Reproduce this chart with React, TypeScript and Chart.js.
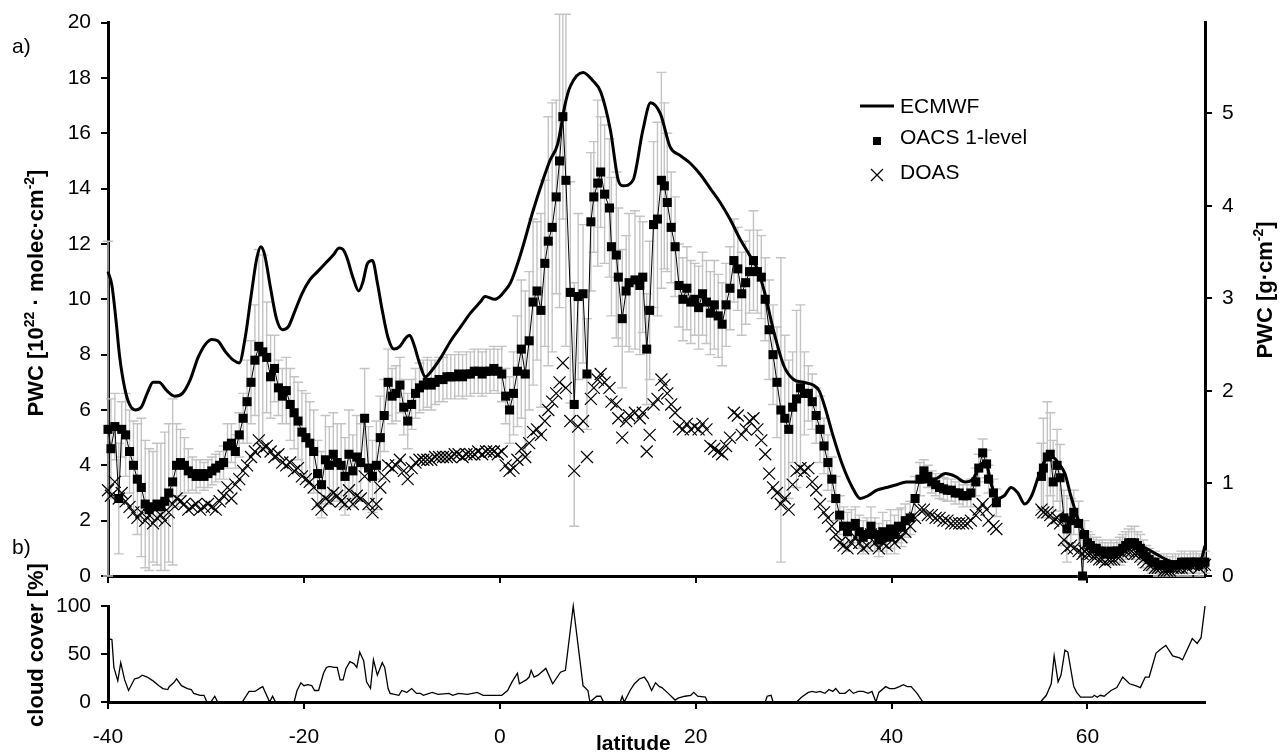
import React, { useEffect, useRef } from "react";
import { Chart, registerables } from "chart.js";
Chart.register(...registerables);

const FONT = '"Liberation Sans", Arial, Helvetica, sans-serif';

// ECMWF model precipitable water column [1e22 molec/cm2]
const ecmwfLat = [
  -40, -39.6, -39.2, -38.8, -38.3, -37.8, -37.2, -36.6, -36.0, -35.4,
  -34.8, -34.0, -33.2, -32.4, -31.6, -30.8, -30.0, -29.4, -28.8, -28.0,
  -27.2, -26.6, -26.0, -25.4, -24.8, -24.4, -24.0, -23.4, -22.8, -22.2,
  -21.6, -21.0, -20.2, -19.4, -18.6, -17.8, -17.0, -16.4, -16.0, -15.6,
  -15.0, -14.4, -14.0, -13.5, -13.0, -12.5, -12.0, -11.4, -10.8, -10.2,
  -9.6, -9.2, -8.8, -8.2, -7.6, -7.0, -6.0, -5.0, -4.0, -3.0,
  -2.0, -1.5, -0.5, 0, 0.5, 1.1, 2.1, 3.4, 4.4, 5.1,
  5.9, 6.7, 7.2, 8.5, 9.5, 10.3, 11.3, 12.1, 12.6, 13.6,
  14.6, 15.4, 16.4, 17.4, 18.4, 19.5, 20.5, 21.5, 22.5, 23.5,
  24.5, 25.5, 26.3, 27.0, 28.0, 29.0, 30.0, 31.0, 32.0, 32.6,
  33.2, 34.0, 35.0, 36.0, 36.8, 37.6, 38.5, 39.5, 40.5, 41.5,
  42.5, 43.5, 44.5, 45.5, 46.5, 47.5, 48.3, 49.0, 49.6, 50.2,
  50.8, 51.5, 52.2, 52.9, 53.6, 54.3, 55.0, 55.7, 56.4, 57.0,
  57.7, 58.3, 59.0, 59.6, 60.3, 61.0, 62.0, 63.0, 64.0, 65.0,
  66.0, 67.0, 68.0, 69.0, 70.0, 71.0, 71.6, 72.0,
];
const ecmwfVal = [
  11.0, 10.5, 9.3, 7.9, 6.8, 6.2, 6.0, 6.1, 6.6, 7.0,
  7.0, 6.7, 6.5, 6.6, 7.1, 7.9, 8.4, 8.55, 8.5, 8.1,
  7.8, 7.7, 8.6, 10.1, 11.5, 11.9, 11.6, 10.4, 9.3, 8.9,
  9.0, 9.5, 10.2, 10.7, 11.0, 11.3, 11.6, 11.85, 11.8, 11.5,
  10.8, 10.3, 10.6, 11.3, 11.4, 10.6, 9.6, 8.6, 8.2, 8.3,
  8.6, 8.7, 8.4, 7.7, 7.2, 7.4, 7.9, 8.5, 9.0, 9.5,
  9.9, 10.1, 10.0, 10.1, 10.3, 10.6, 11.6, 13.2, 14.3, 15.0,
  15.6, 17.1, 17.7, 18.2, 17.9, 17.5, 16.1, 14.3, 14.1, 14.3,
  16.1, 17.1, 16.7, 15.5, 15.2, 14.9, 14.5, 14.0, 13.5, 12.9,
  12.2, 11.6, 11.1, 10.3, 8.8, 7.6, 7.1, 7.0, 6.9, 6.7,
  6.1, 5.1, 4.0, 3.2, 2.8, 2.9, 3.1, 3.2, 3.3, 3.4,
  3.4, 3.4, 3.5, 3.7, 3.6, 3.4, 3.5, 4.0, 4.1, 3.3,
  2.8, 2.9, 3.2, 3.0, 2.6, 2.9, 3.6, 4.2, 4.3, 4.1,
  3.7, 2.9, 2.1, 1.6, 1.2, 1.0, 0.9, 0.9, 1.0, 1.1,
  1.0, 0.8, 0.6, 0.5, 0.5, 0.5, 0.6, 1.1,
];

// measurement latitudes (shared by OACS and DOAS)
const measLat = [
  -40.0, -39.7, -39.3, -38.9, -38.6, -38.2, -37.8, -37.4, -37.0, -36.6,
  -36.2, -35.8, -35.4, -35.0, -34.6, -34.2, -33.8, -33.4, -33.0, -32.6,
  -32.2, -31.8, -31.4, -31.0, -30.6, -30.2, -29.8, -29.4, -29.0, -28.6,
  -28.2, -27.8, -27.4, -27.0, -26.6, -26.2, -25.8, -25.4, -25.0, -24.6,
  -24.2, -23.8, -23.4, -23.0, -22.6, -22.2, -21.8, -21.4, -21.0, -20.6,
  -20.2, -19.8, -19.4, -19.0, -18.6, -18.2, -17.8, -17.4, -17.0, -16.6,
  -16.2, -15.8, -15.4, -15.0, -14.6, -14.2, -13.8, -13.4, -13.0, -12.6,
  -12.2, -11.8, -11.4, -11.0, -10.6, -10.2, -9.8, -9.4, -9.0, -8.6,
  -8.2, -7.8, -7.4, -7.0, -6.6, -6.2, -5.8, -5.4, -5.0, -4.6,
  -4.2, -3.8, -3.4, -3.0, -2.6, -2.2, -1.8, -1.4, -1.0, -0.6,
  -0.2, 0.2, 0.6, 1.0, 1.4, 1.8, 2.2, 2.6, 3.0, 3.4,
  3.8, 4.2, 4.6, 4.95, 5.35, 5.76, 6.1, 6.44, 6.75, 7.2,
  7.6, 8.0, 8.5, 8.9, 9.3, 9.6, 10.0, 10.3, 10.7, 11.2,
  11.4, 11.9, 12.1, 12.5, 12.9, 13.2, 13.8, 14.3, 14.6, 15.0,
  15.3, 15.7, 16.1, 16.5, 16.8, 17.1, 17.5, 17.9, 18.3, 18.7,
  19.1, 19.5, 19.9, 20.3, 20.7, 21.1, 21.5, 21.9, 22.3, 22.7,
  23.1, 23.5, 23.9, 24.3, 24.7, 25.1, 25.5, 25.9, 26.3, 26.7,
  27.1, 27.5, 27.9, 28.3, 28.7, 29.1, 29.5, 29.9, 30.3, 30.7,
  31.1, 31.5, 31.9, 32.3, 32.7, 33.1, 33.5, 33.9, 34.3, 34.7,
  35.1, 35.5, 35.9, 36.3, 36.7, 37.1, 37.5, 37.9, 38.3, 38.7,
  39.1, 39.5, 39.9, 40.3, 40.7, 41.0, 41.4, 41.9, 42.4, 42.9,
  43.3, 43.7, 44.1, 44.5, 44.9, 45.3, 45.7, 46.1, 46.5, 46.9,
  47.3, 47.7, 48.1, 48.6, 48.9, 49.3, 49.7, 49.9, 50.4, 50.7,
  55.3, 55.5, 55.9, 56.2, 56.5, 56.9, 57.2, 57.6, 57.9, 58.3,
  58.6, 59.1, 59.5, 59.7, 60.0, 60.3, 60.6, 60.9, 61.2, 61.5,
  61.8, 62.1, 62.4, 62.7, 63.0, 63.3, 63.6, 63.9, 64.2, 64.5,
  64.8, 65.1, 65.4, 65.7, 66.0, 66.3, 66.6, 66.9, 67.2, 67.5,
  67.8, 68.1, 68.4, 68.7, 69.0, 69.3, 69.6, 69.9, 70.2, 70.5,
  70.8, 71.1, 71.4, 71.7, 72.0,
];

// OACS 1-level retrieval
const oacsVal = [
  5.3, 4.6, 5.4, 2.8, 5.3, 5.1, 4.5, 4.0, 3.5, 3.2,
  2.6, 2.4, 2.5, 2.6, 2.5, 2.7, 3.0, 3.4, 4.0, 4.1,
  4.0, 3.8, 3.7, 3.6, 3.7, 3.6, 3.7, 3.8, 3.9, 4.0,
  4.1, 4.7, 4.8, 4.5, 5.1, 5.7, 6.3, 7.0, 7.8, 8.3,
  8.1, 7.9, 7.2, 7.5, 6.8, 6.5, 6.7, 6.2, 5.9, 5.6,
  5.2, 5.0, 4.8, 4.5, 3.7, 3.3, 4.2, 4.0, 4.4, 4.1,
  4.0, 3.6, 4.4, 3.8, 4.3, 4.1, 5.7, 3.9, 3.6, 4.0,
  5.0, 5.8, 7.0, 6.5, 6.6, 6.9, 6.1, 5.6, 6.2, 6.6,
  6.8, 6.9, 7.0, 6.9, 7.0, 7.1, 7.1, 7.2, 7.2, 7.2,
  7.3, 7.2, 7.3, 7.3, 7.4, 7.4, 7.3, 7.4, 7.4, 7.5,
  7.4, 7.3, 6.5, 6.0, 6.6, 7.4, 8.2, 7.3, 8.5, 9.9,
  10.3, 9.6, 11.3, 12.1, 12.6, 13.7, 15.0, 16.6, 14.3, 10.25,
  6.2, 10.1, 10.2, 7.3, 12.8, 13.7, 14.2, 14.6, 13.8, 13.3,
  11.9, 11.6, 10.8, 9.3, 10.3, 10.6, 10.7, 10.5, 10.8, 8.2,
  9.6, 12.7, 12.9, 14.3, 14.1, 13.5, 12.6, 11.9, 10.5, 10.0,
  10.4, 9.9, 10.0, 9.7, 10.2, 9.9, 9.5, 9.8, 9.4, 9.1,
  9.8, 10.4, 11.4, 11.1, 10.2, 10.6, 11.0, 11.4, 11.0, 10.8,
  10.0, 8.9, 8.0, 7.0, 6.0, 5.7, 5.3, 6.1, 6.4, 6.8,
  6.6, 6.6, 6.3, 5.8, 5.3, 4.7, 4.1, 3.5, 2.8, 2.2,
  1.8, 1.6, 1.8, 1.9, 1.6, 1.4, 1.5, 1.8, 1.5, 1.3,
  1.6, 1.4, 1.7, 1.5, 1.8, 1.76, 2.0, 2.1, 2.8, 3.5,
  3.8, 3.6, 3.4, 3.3, 3.2, 3.15, 3.1, 3.1, 3.0, 3.0,
  2.9, 2.9, 3.0, 3.4, 3.9, 4.45, 4.05, 3.5, 3.0, 2.65,
  3.6, 3.9, 4.3, 4.4, 3.4, 4.0, 3.55, 2.1, 1.7, 2.0,
  2.3, 1.9, 0.0, 1.5, 1.2, 1.1, 1.0, 1.0, 0.9, 0.9,
  0.8, 0.8, 0.9, 0.8, 0.9, 0.9, 1.0, 1.1, 1.2, 1.2,
  1.2, 1.1, 1.0, 0.8, 0.7, 0.6, 0.5, 0.5, 0.4, 0.4,
  0.4, 0.4, 0.3, 0.4, 0.4, 0.4, 0.5, 0.5, 0.4, 0.5,
  0.5, 0.5, 0.4, 0.5, 0.5,
];
const oacsErr = [
  6.8, 1.8, 1.2, 2.0, 1.0, 1.5, 1.5, 1.6, 2.0, 2.5,
  2.3, 2.2, 2.0, 2.2, 2.3, 2.5, 2.5, 3.0, 1.5, 1.2,
  1.0, 0.8, 0.6, 0.6, 0.5, 0.5, 0.5, 0.5, 0.5, 0.5,
  0.6, 0.8, 0.7, 0.6, 0.8, 0.9, 1.5, 1.5, 2.0, 3.5,
  3.5, 2.0, 1.5, 1.2, 1.0, 1.0, 1.2, 1.3, 1.3, 1.4,
  1.5, 1.6, 1.5, 1.5, 1.2, 1.2, 1.6, 1.4, 1.5, 1.4,
  1.5, 1.4, 1.6, 1.3, 1.5, 1.4, 1.8, 1.5, 1.3, 1.6,
  1.5, 1.3, 1.2, 1.0, 1.0, 1.0, 1.0, 1.0, 0.9, 0.9,
  0.9, 0.9, 0.9, 0.9, 0.8, 0.8, 0.8, 0.8, 0.8, 0.8,
  0.8, 0.8, 0.8, 0.8, 0.8, 0.8, 0.8, 0.8, 0.8, 0.8,
  0.8, 1.0, 1.0, 1.2, 1.5, 2.0, 2.5, 3.0, 2.5, 3.0,
  2.5, 3.5, 3.0, 4.5, 4.5, 3.5, 5.3, 3.7, 6.0, 4.0,
  4.4, 3.0, 2.5, 2.0, 2.5, 2.0, 3.0, 2.0, 2.5, 2.5,
  2.5, 3.0, 2.5, 2.5, 2.0, 2.5, 2.5, 2.5, 2.0, 2.0,
  2.5, 3.0, 3.5, 3.9, 3.0, 2.5, 2.0, 1.8, 1.5, 1.5,
  1.5, 1.5, 1.3, 1.5, 1.5, 1.5, 1.5, 1.6, 1.5, 1.5,
  1.5, 1.5, 1.5, 1.5, 1.5, 1.5, 1.5, 1.8, 1.5, 1.5,
  1.5, 1.8, 1.8, 2.0, 5.5, 3.0, 2.5, 2.0, 3.2, 3.0,
  1.5, 1.0, 1.0, 1.0, 1.2, 1.0, 1.0, 0.8, 0.8, 0.7,
  0.7, 0.7, 0.6, 0.6, 0.6, 0.6, 0.6, 0.7, 0.6, 0.6,
  0.7, 0.6, 0.7, 0.7, 0.6, 0.7, 0.6, 0.6, 0.8, 0.6,
  0.4, 0.4, 0.4, 0.4, 0.4, 0.4, 0.4, 0.4, 0.4, 0.4,
  0.4, 0.4, 0.5, 0.5, 0.5, 0.5, 0.5, 0.5, 0.5, 0.5,
  1.2, 1.8, 2.0, 1.5, 1.5, 1.3, 1.2, 1.0, 1.2, 0.8,
  0.8, 0.8, 1.3, 0.5, 0.4, 0.4, 0.4, 0.4, 0.4, 0.4,
  0.4, 0.4, 0.4, 0.4, 0.4, 0.5, 0.5, 0.5, 0.5, 0.6,
  0.6, 0.5, 0.5, 0.5, 0.4, 0.4, 0.4, 0.4, 0.4, 0.4,
  0.4, 0.4, 0.4, 0.4, 0.4, 0.4, 0.4, 0.4, 0.4, 0.4,
  0.4, 0.4, 0.4, 0.4, 0.4,
];

// DOAS retrieval
const doasVal = [
  3.1, 2.9, 3.4, 2.8, 3.0, 2.7, 2.5, 2.3, 2.1, 2.3,
  2.0, 2.2, 1.9, 2.1, 2.2, 2.0, 2.3, 2.6, 2.8, 2.7,
  2.6, 2.4, 2.5, 2.6, 2.4, 2.5, 2.6, 2.5, 2.4, 2.7,
  2.9, 3.2, 2.8, 3.3, 3.5, 3.8, 4.0, 4.3, 4.5, 4.9,
  4.6, 4.7, 4.5, 4.3, 4.4, 4.1, 4.0, 4.1, 3.8, 3.9,
  3.6, 3.5, 3.4, 3.2, 2.6, 2.4, 2.8, 2.7, 3.0, 2.9,
  2.7, 2.6, 3.1, 2.6, 2.9, 2.8, 3.6, 2.6, 2.3, 2.6,
  3.2, 3.6, 4.0, 3.9, 4.0, 4.2, 3.8, 3.5, 3.9, 4.1,
  4.2, 4.2, 4.2, 4.2, 4.3, 4.3, 4.3, 4.3, 4.3, 4.4,
  4.4, 4.3, 4.4, 4.4, 4.4, 4.5, 4.4, 4.5, 4.5, 4.5,
  4.4, 4.5, 4.0, 3.8, 3.9, 4.2, 4.6, 4.3, 4.8, 5.2,
  5.3, 5.1, 5.6, 6.0, 6.3, 6.6, 7.0, 7.7, 6.8, 5.6,
  3.8, 5.4, 5.6, 4.3, 6.4, 6.8, 7.1, 7.3, 7.0, 6.8,
  6.3, 6.2, 5.7, 5.0, 5.6, 5.8, 5.9, 5.7, 5.9, 4.5,
  5.1, 6.2, 6.4, 7.1, 6.9, 6.6, 6.2, 5.9, 5.4, 5.3,
  5.5, 5.3, 5.4, 5.3, 5.5, 5.3, 4.7, 4.6, 4.5, 4.4,
  4.7, 5.0, 5.9, 5.8, 5.1, 5.3, 5.6, 5.7, 5.3, 4.9,
  4.4, 3.7, 3.2, 3.0, 2.6, 2.8, 2.4, 3.3, 3.8, 3.9,
  3.8, 3.9, 3.4, 3.1, 2.6, 2.3, 2.1, 1.8, 1.5, 1.2,
  1.1, 1.0, 1.2, 1.4, 1.2, 1.0, 1.1, 1.5, 1.2, 1.0,
  1.2, 1.1, 1.4, 1.2, 1.5, 1.4, 1.6, 1.8, 2.1, 2.4,
  2.4, 2.2, 2.2, 2.1, 2.1, 2.0, 2.0, 1.9, 1.9, 1.9,
  1.9, 1.9, 2.0, 2.2, 2.4, 2.6, 2.4, 2.0, 1.8, 1.7,
  2.4, 2.3, 2.3, 2.2, 2.0, 2.1, 1.9, 1.3, 1.0, 1.1,
  1.0, 0.9, 0.8, 0.9, 0.8, 0.8, 0.7, 0.7, 0.6, 0.6,
  0.5, 0.6, 0.6, 0.6, 0.7, 0.7, 0.8, 0.9, 0.9, 0.9,
  0.8, 0.8, 0.7, 0.6, 0.5, 0.4, 0.4, 0.3, 0.3, 0.3,
  0.2, 0.2, 0.2, 0.3, 0.3, 0.3, 0.3, 0.4, 0.3, 0.4,
  0.4, 0.4, 0.3, 0.4, 0.4,
];

// cloud cover [%]
const cloudLat = [
  -40, -39.6, -39.4, -39.0, -38.7, -38.3, -37.9, -37.3, -36.9, -36.5,
  -36.0, -35.4, -34.8, -34.4, -33.9, -33.75, -33.3, -33.0, -32.5, -31.9,
  -31.5, -31.25, -30.6, -30.2, -29.9, -29.5, -29.1, -28.8, -26.3, -25.6,
  -25.0, -24.4, -24.2, -23.5, -23.2, -22.9, -21.0, -20.7, -20.3, -20.0,
  -19.6, -19.2, -18.9, -18.5, -18.0, -17.7, -17.4, -16.9, -16.6, -16.3,
  -16.0, -15.7, -15.3, -14.9, -14.6, -14.3, -13.9, -13.6, -13.2, -12.9,
  -12.5, -12.0, -11.75, -11.4, -11.2, -10.75, -10.3, -10.0, -9.5, -9.0,
  -8.5, -8.1, -7.8, -6.9, -6.3, -5.2, -4.8, -4.2, -3.3, -2.3,
  -1.7, 0.2, 0.8, 1.25, 1.8, 2.0, 2.7, 3.0, 3.2, 3.5,
  3.9, 4.7, 5.4, 6.2, 6.7, 7.5, 8.5, 9.0, 9.2, 9.9,
  10.3, 10.6, 12.3, 12.5, 12.7, 13.3, 13.75, 14.25, 14.75, 15.1,
  15.5, 15.9, 16.3, 16.55, 17.2, 17.9, 18.2, 18.9, 19.5, 19.8,
  20.2, 21.0, 21.2, 27.1, 27.3, 27.7, 27.9, 30.3, 30.8, 31.5,
  31.9, 32.3, 32.7, 33.2, 33.6, 34.0, 34.3, 34.7, 35.25, 35.7,
  36.1, 36.6, 37.1, 37.6, 38.0, 38.4, 38.7, 39.4, 39.8, 40.3,
  40.8, 41.2, 41.6, 42.0, 42.6, 43.2, 55.2, 55.8, 56.3, 56.6,
  57.0, 57.3, 57.7, 58.0, 58.6, 58.9, 59.3, 60.5, 60.7, 61.0,
  61.3, 61.7, 62.4, 63.0, 63.6, 64.3, 64.9, 65.4, 65.9, 66.3,
  67.0, 67.6, 68.0, 68.7, 69.4, 69.7, 70.7, 71.2, 71.6, 72.0,
];
const cloudVal = [
  66, 65, 36, 22, 41, 23, 12, 24, 25, 28,
  26, 22, 17, 14, 13, 16, 20, 24, 17, 14,
  13, 9, 7, 7, 0, 0, 6, 0, 0, 11,
  11, 15, 16, 0, 6, 0, 0, 12, 20, 17,
  18, 17, 12, 12, 30, 36, 37, 36, 36, 23,
  23, 35, 42, 40, 36, 52, 43, 21, 14, 44,
  28, 41, 36, 14, 9, 8, 7, 12, 10, 14,
  9, 9, 7, 10, 8, 9, 7, 9, 8, 10,
  7, 7, 12, 21, 30, 19, 23, 26, 33, 26,
  28, 35, 19, 31, 33, 100, 17, 12, 0, 6,
  6, 0, 0, 6, 0, 12, 19, 24, 26, 21,
  12, 20, 16, 15, 9, 2, 4, 6, 7, 10,
  6, 5, 0, 0, 6, 7, 0, 0, 5, 10,
  11, 10, 11, 9, 13, 11, 14, 9, 9, 13,
  9, 11, 11, 9, 11, 0, 10, 16, 14, 14,
  16, 18, 16, 16, 9, 0, 0, 7, 19, 48,
  21, 28, 54, 52, 16, 10, 5, 5, 7, 5,
  7, 6, 12, 15, 26, 19, 17, 15, 26, 26,
  51, 56, 59, 48, 46, 44, 66, 61, 67, 100,
];

const pts = (xs: number[], ys: number[]) => {
  const n = Math.min(xs.length, ys.length);
  const out: { x: number; y: number }[] = [];
  for (let i = 0; i < n; i++) out.push({ x: xs[i], y: ys[i] });
  return out;
};

type Seg = { t: string; sup?: boolean };

function drawRich(
  ctx: CanvasRenderingContext2D,
  segs: Seg[],
  x: number,
  y: number,
  rot: number,
  size: number,
  bold: boolean
) {
  const w = bold ? "bold " : "";
  const supSize = Math.round(size * 0.62);
  ctx.save();
  ctx.translate(x, y);
  ctx.rotate(rot);
  ctx.fillStyle = "#000";
  ctx.textBaseline = "alphabetic";
  ctx.textAlign = "left";
  const widths = segs.map((s) => {
    ctx.font = `${w}${s.sup ? supSize : size}px ${FONT}`;
    return ctx.measureText(s.t).width;
  });
  const total = widths.reduce((a, b) => a + b, 0);
  let cx = -total / 2;
  segs.forEach((s, i) => {
    ctx.font = `${w}${s.sup ? supSize : size}px ${FONT}`;
    ctx.fillText(s.t, cx, s.sup ? -size * 0.42 : 0);
    cx += widths[i];
  });
  ctx.restore();
}

const grid = {
  drawOnChartArea: false,
  drawTicks: true,
  tickLength: 7,
  color: "#000",
  lineWidth: 2,
};
const border = { display: true, color: "#000", width: 3 };
const tickFont = { size: 21, family: FONT };

const BOT_TOP = 540; // page y of bottom canvas

const errorBars = {
  id: "errorBars",
  beforeDatasetsDraw(chart: any) {
    const { ctx } = chart;
    const xs = chart.scales.x;
    const ys = chart.scales.y;
    const n = Math.min(measLat.length, oacsVal.length, oacsErr.length);
    ctx.save();
    ctx.strokeStyle = "#c3c3c3";
    ctx.lineWidth = 1.4;
    ctx.beginPath();
    for (let i = 0; i < n; i++) {
      const px = xs.getPixelForValue(measLat[i]);
      const top = ys.getPixelForValue(oacsVal[i] + oacsErr[i]);
      const bot = ys.getPixelForValue(Math.max(0, oacsVal[i] - oacsErr[i]));
      ctx.moveTo(px, top);
      ctx.lineTo(px, bot);
      ctx.moveTo(px - 5, top);
      ctx.lineTo(px + 5, top);
      ctx.moveTo(px - 5, bot);
      ctx.lineTo(px + 5, bot);
    }
    ctx.stroke();
    ctx.restore();
  },
};

const topText = {
  id: "topText",
  afterDraw(chart: any) {
    const ctx: CanvasRenderingContext2D = chart.ctx;
    ctx.save();
    ctx.fillStyle = "#000";
    ctx.font = `21px ${FONT}`;
    ctx.textBaseline = "middle";
    ctx.textAlign = "left";
    ctx.fillText("a)", 12, 47);
    ctx.fillText("b)", 12, 548);
    // legend
    ctx.strokeStyle = "#000";
    ctx.lineWidth = 3;
    ctx.beginPath();
    ctx.moveTo(860, 106);
    ctx.lineTo(894, 106);
    ctx.stroke();
    ctx.fillRect(873, 137, 8, 8);
    ctx.lineWidth = 1.3;
    ctx.beginPath();
    ctx.moveTo(871, 169);
    ctx.lineTo(883, 181);
    ctx.moveTo(883, 169);
    ctx.lineTo(871, 181);
    ctx.stroke();
    ctx.fillText("ECMWF", 900, 107);
    ctx.fillText("OACS 1-level", 900, 138);
    ctx.fillText("DOAS", 900, 173);
    ctx.restore();
    drawRich(
      ctx,
      [{ t: "PWC [10" }, { t: "22", sup: true }, { t: " · molec·cm" }, { t: "-2", sup: true }, { t: "]" }],
      43,
      293,
      -Math.PI / 2,
      22,
      true
    );
    drawRich(
      ctx,
      [{ t: "PWC [g·cm" }, { t: "-2", sup: true }, { t: "]" }],
      1272,
      290,
      -Math.PI / 2,
      22,
      true
    );
  },
};

const botText = {
  id: "botText",
  afterDraw(chart: any) {
    const ctx: CanvasRenderingContext2D = chart.ctx;
    drawRich(ctx, [{ t: "cloud cover [%]" }], 43, 645 - BOT_TOP, -Math.PI / 2, 22, true);
    ctx.save();
    ctx.fillStyle = "#000";
    ctx.font = `bold 21px ${FONT}`;
    ctx.textAlign = "left";
    ctx.textBaseline = "alphabetic";
    ctx.fillText("latitude", 596, 750 - BOT_TOP);
    ctx.restore();
  },
};

export default function App() {
  const topRef = useRef<HTMLCanvasElement>(null);
  const botRef = useRef<HTMLCanvasElement>(null);

  useEffect(() => {
    const top = new Chart(topRef.current as HTMLCanvasElement, {
      type: "scatter",
      data: {
        datasets: [
          {
            label: "ECMWF",
            data: pts(ecmwfLat, ecmwfVal),
            showLine: true,
            borderColor: "#000",
            borderWidth: 3,
            pointRadius: 0,
            cubicInterpolationMode: "monotone",
            clip: false,
          } as any,
          {
            label: "OACS 1-level",
            data: pts(measLat, oacsVal),
            showLine: true,
            borderColor: "#000",
            borderWidth: 1,
            segment: {
              borderColor: (c: any) =>
                c.p1.parsed.x - c.p0.parsed.x > 2 ? "rgba(0,0,0,0)" : "#000",
            },
            pointStyle: "rect",
            pointRadius: 6.4,
            pointBackgroundColor: "#000",
            pointBorderWidth: 0,
            clip: false,
          } as any,
          {
            label: "DOAS",
            data: pts(measLat, doasVal),
            showLine: false,
            borderColor: "#000",
            pointStyle: "crossRot",
            pointRadius: 8.5,
            pointBorderColor: "#000",
            pointBorderWidth: 1.2,
            clip: false,
          } as any,
        ],
      },
      options: {
        animation: false,
        responsive: false,
        maintainAspectRatio: false,
        events: [],
        layout: { padding: { left: 0, right: 0, top: 18, bottom: 0 } },
        plugins: { legend: { display: false }, tooltip: { enabled: false } },
        scales: {
          x: {
            type: "linear",
            min: -40,
            max: 72,
            afterFit: (s: any) => {
              s.height = 24;
            },
            ticks: { stepSize: 20, includeBounds: false, display: false },
            grid,
            border,
          },
          y: {
            type: "linear",
            position: "left",
            min: 0,
            max: 20,
            afterFit: (s: any) => {
              s.width = 108;
            },
            ticks: { stepSize: 2, font: tickFont, color: "#000", padding: 10 },
            grid,
            border,
          },
          y2: {
            type: "linear",
            position: "right",
            min: 0,
            max: 5.98,
            afterFit: (s: any) => {
              s.width = 77;
            },
            ticks: { stepSize: 1, includeBounds: false, font: tickFont, color: "#000", padding: 10 },
            grid,
            border,
          },
        },
      } as any,
      plugins: [errorBars, topText],
    });

    const bot = new Chart(botRef.current as HTMLCanvasElement, {
      type: "scatter",
      data: {
        datasets: [
          {
            label: "cloud cover",
            data: pts(cloudLat, cloudVal),
            showLine: true,
            borderColor: "#000",
            borderWidth: 1.3,
            pointRadius: 0,
            clip: false,
          } as any,
        ],
      },
      options: {
        animation: false,
        responsive: false,
        maintainAspectRatio: false,
        events: [],
        layout: { padding: { left: 0, right: 77, top: 606 - BOT_TOP, bottom: 0 } },
        plugins: { legend: { display: false }, tooltip: { enabled: false } },
        scales: {
          x: {
            type: "linear",
            min: -40,
            max: 72,
            afterFit: (s: any) => {
              s.height = 52;
            },
            ticks: {
              stepSize: 20,
              includeBounds: false,
              font: tickFont,
              color: "#000",
              padding: 16,
              maxRotation: 0,
              autoSkip: false,
            },
            grid,
            border,
          },
          y: {
            type: "linear",
            position: "left",
            min: 0,
            max: 100,
            afterFit: (s: any) => {
              s.width = 108;
            },
            ticks: { stepSize: 50, font: tickFont, color: "#000", padding: 10 },
            grid,
            border,
          },
        },
      } as any,
      plugins: [botText],
    });

    return () => {
      top.destroy();
      bot.destroy();
    };
  }, []);

  return (
    <div
      style={{
        position: "absolute",
        left: 0,
        top: 0,
        width: 1282,
        height: 754,
        background: "#fff",
        overflow: "hidden",
      }}
    >
      <canvas
        ref={topRef}
        width={1282}
        height={600}
        style={{ position: "absolute", left: 0, top: 0, width: 1282, height: 600 }}
      />
      <canvas
        ref={botRef}
        width={1282}
        height={754 - BOT_TOP}
        style={{ position: "absolute", left: 0, top: BOT_TOP, width: 1282, height: 754 - BOT_TOP }}
      />
    </div>
  );
}
